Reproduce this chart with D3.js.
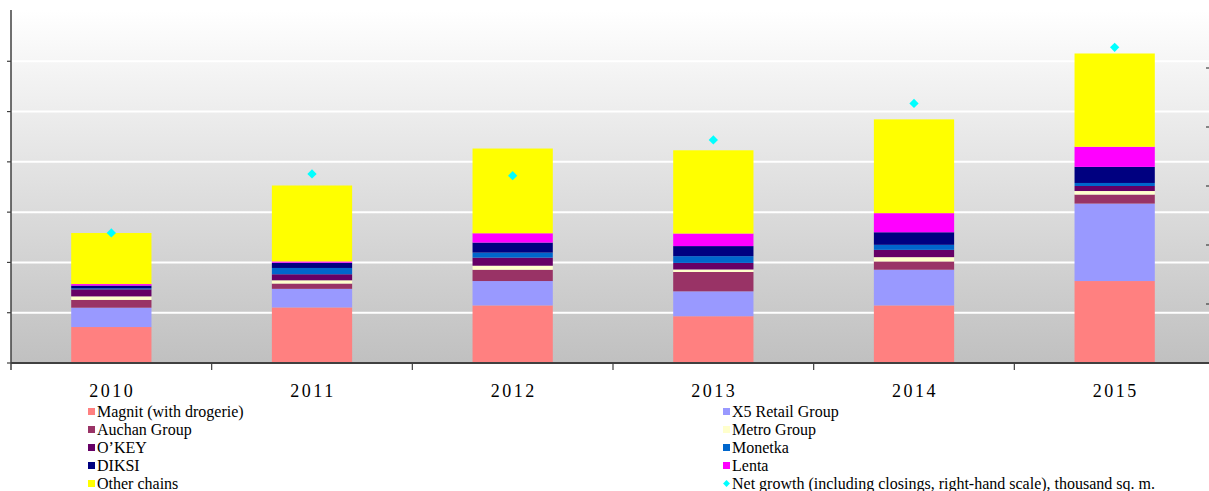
<!DOCTYPE html>
<html>
<head>
<meta charset="utf-8">
<script src="https://cdn.jsdelivr.net/npm/d3@7"></script>
<style>
body { margin: 0; background: #fff; }
svg { display: block; }
.lab { font-family: "Liberation Serif", "Times New Roman", serif; fill: #000; }
</style>
</head>
<body>
<svg id="chart" width="1209" height="491"></svg>
<script>
// categories
var years = ["2010", "2011", "2012", "2013", "2014", "2015"];

// series names, in stacking order
var seriesNames = ["Magnit (with drogerie)", "X5 Retail Group", "Auchan Group", "Metro Group",
                   "O\u2019KEY", "Monetka", "DIKSI", "Lenta", "Other chains"];
var seriesColors = ["#ff8080", "#9999ff", "#993366", "#ffffcc",
                    "#660066", "#0066cc", "#000080", "#ff00ff", "#ffff00"];

// stacked values (left-hand scale)
var magnit  = [143, 221, 229, 186, 229, 326];
var x5      = [ 77,  74,  97,  99, 142, 308];
var auchan  = [ 31,  21,  45,  77,  33,  36];
var metro   = [ 14,  13,  16,  10,  17,  14];
var okey    = [ 28,  24,  32,  26,  29,  20];
var monetka = [  4,  25,  20,  27,  20,  12];
var diksi   = [ 11,  21,  40,  40,  50,  64];
var lenta   = [  6,   5,  37,  50,  76,  80];
var other   = [203, 302, 337, 331, 373, 371];

// net growth (right-hand scale)
var netGrowth = [441, 641, 635, 756, 880, 1070];
var netName = "Net growth (including closings, right-hand scale), thousand sq. m.";

var leftTicks = [0, 200, 400, 600, 800, 1000, 1200, 1400];
var rightTicks = [0, 200, 400, 600, 800, 1000, 1200];

var seriesValues = [magnit, x5, auchan, metro, okey, monetka, diksi, lenta, other];

var rows = years.map(function(y, i) {
    var r = { year: y };
    seriesNames.forEach(function(n, k) { r[n] = seriesValues[k][i]; });
    return r;
});

var svg = d3.select("#chart");
var pLeft = 11, pRight = 1215, pTop = 11, pBottom = 363;

var x = d3.scaleBand().domain(years).range([pLeft, pRight]).paddingInner(0.6).paddingOuter(0.3);
var y = d3.scaleLinear().domain([0, 1400]).range([pBottom, pTop]);
var y2 = d3.scaleLinear().domain([0, 1200]).range([pBottom, 9]);

// plot background gradient
var grad = svg.append("defs").append("linearGradient")
    .attr("id", "bg").attr("x1", 0).attr("y1", 0).attr("x2", 0).attr("y2", 1);
grad.append("stop").attr("offset", "0%").attr("stop-color", "#ffffff");
grad.append("stop").attr("offset", "100%").attr("stop-color", "#c0c0c0");

svg.append("rect")
    .attr("x", pLeft).attr("y", pTop - 1)
    .attr("width", 1209 - pLeft).attr("height", pBottom - pTop + 1)
    .attr("fill", "url(#bg)");

// grid lines
svg.append("g").selectAll("line")
    .data(leftTicks.slice(1, -1))
    .join("line")
    .attr("x1", pLeft).attr("x2", 1209)
    .attr("y1", function(d) { return y(d); })
    .attr("y2", function(d) { return y(d); })
    .attr("stroke", "#ffffff").attr("stroke-width", 2);

// stacked bars
var stack = d3.stack().keys(seriesNames)(rows);
svg.append("g").selectAll("g")
    .data(stack)
    .join("g")
    .attr("fill", function(d, i) { return seriesColors[i]; })
    .selectAll("rect")
    .data(function(d) { return d; })
    .join("rect")
    .attr("x", function(d) { return x(d.data.year); })
    .attr("width", x.bandwidth())
    .attr("y", function(d) { return y(d[1]); })
    .attr("height", function(d) { return y(d[0]) - y(d[1]); });

// net growth markers
svg.append("g").selectAll("path")
    .data(netGrowth)
    .join("path")
    .attr("d", d3.symbol().type(d3.symbolDiamond2).size(55))
    .attr("transform", function(d, i) {
        return "translate(" + (x(years[i]) + x.bandwidth() / 2) + "," + y2(d) + ")";
    })
    .attr("fill", "#00ffff");

// axes
var axisCol = "#404040";
svg.append("line")
    .attr("x1", pLeft).attr("x2", pLeft).attr("y1", 10).attr("y2", 370)
    .attr("stroke", axisCol).attr("stroke-width", 1.5);
svg.append("g").selectAll("line")
    .data(leftTicks.slice(0, -1))
    .join("line")
    .attr("x1", 7).attr("x2", pLeft)
    .attr("y1", function(d) { return y(d); })
    .attr("y2", function(d) { return y(d); })
    .attr("stroke", axisCol).attr("stroke-width", 1.2);

svg.append("line")
    .attr("x1", pLeft).attr("x2", 1209).attr("y1", pBottom).attr("y2", pBottom)
    .attr("stroke", axisCol).attr("stroke-width", 2);
svg.append("g").selectAll("line")
    .data(years.slice(1))
    .join("line")
    .attr("x1", function(d) { return x(d) - x.step() * x.paddingInner() / 2; })
    .attr("x2", function(d) { return x(d) - x.step() * x.paddingInner() / 2; })
    .attr("y1", pBottom).attr("y2", 370)
    .attr("stroke", axisCol).attr("stroke-width", 1.2);

// right-hand scale ticks (axis itself is cut off by the frame)
svg.append("g").selectAll("line")
    .data(rightTicks.slice(1, -1))
    .join("line")
    .attr("x1", 1206).attr("x2", 1209)
    .attr("y1", function(d) { return y2(d); })
    .attr("y2", function(d) { return y2(d); })
    .attr("stroke", axisCol).attr("stroke-width", 1.2);

// year labels
svg.append("g").selectAll("text")
    .data(years)
    .join("text")
    .attr("class", "lab")
    .attr("x", function(d) { return x(d) + x.bandwidth() / 2 + 1; })
    .attr("y", 397)
    .attr("text-anchor", "middle")
    .style("font-size", "18px")
    .style("letter-spacing", "2.5px")
    .text(function(d) { return d; });

// legend, two columns filled row by row
var legItems = seriesNames.map(function(n, i) { return { name: n, color: seriesColors[i], mark: "sq" }; });
legItems.push({ name: netName, color: "#00ffff", mark: "dia" });

var leg = svg.append("g").selectAll("g")
    .data(legItems)
    .join("g")
    .attr("transform", function(d, i) {
        return "translate(" + (i % 2 == 0 ? 88 : 723) + "," + (417 + Math.floor(i / 2) * 18) + ")";
    });
leg.filter(function(d) { return d.mark == "sq"; })
    .append("rect")
    .attr("x", 0).attr("y", -9).attr("width", 7).attr("height", 7)
    .attr("fill", function(d) { return d.color; });
leg.filter(function(d) { return d.mark == "dia"; })
    .append("path")
    .attr("d", d3.symbol().type(d3.symbolDiamond2).size(30))
    .attr("transform", "translate(3.5,-5.5)")
    .attr("fill", function(d) { return d.color; });
leg.append("text")
    .attr("class", "lab")
    .attr("x", 9).attr("y", 0)
    .style("font-size", "16px")
    .text(function(d) { return d.name; });
</script>
</body>
</html>
